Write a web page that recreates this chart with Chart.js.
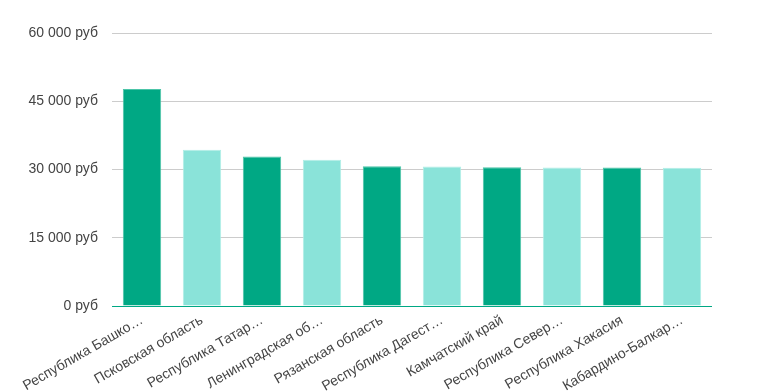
<!DOCTYPE html>
<html>
<head>
<meta charset="utf-8">
<script src="https://cdn.jsdelivr.net/npm/chart.js@4/dist/chart.umd.min.js"></script>
<style>
html,body{margin:0;padding:0;background:#fff;}
#wrap{width:760px;height:392px;position:relative;}
</style>
</head>
<body>
<div id="wrap"><canvas id="c" width="760" height="392"></canvas></div>
<script>
const categories = [
  "Республика Башко…",
  "Псковская область",
  "Республика Татар…",
  "Ленинградская об…",
  "Рязанская область",
  "Республика Дагест…",
  "Камчатский край",
  "Республика Север…",
  "Республика Хакасия",
  "Кабардино-Балкар…"
];
const salaries = [47700, 34350, 32880, 32160, 30700, 30650, 30500, 30450, 30450, 30400];
const yTicks = [0, 15000, 30000, 45000, 60000];

const dark = '#00a884';
const light = '#8ae3d9';
const barColors = categories.map((_, i) => i % 2 === 0 ? dark : light);
const borderColors = categories.map((_, i) => i % 2 === 0 ? '#4cc5a8' : '#b0eee6');

function fmt(v){
  return String(v).replace(/\B(?=(\d{3})+(?!\d))/g, ' ') + ' руб';
}

new Chart(document.getElementById('c'), {
  type: 'bar',
  data: {
    labels: categories,
    datasets: [{
      data: salaries,
      backgroundColor: barColors,
      borderColor: borderColors,
      borderWidth: 1,
      categoryPercentage: 1,
      barPercentage: 0.64
    }]
  },
  options: {
    responsive: false,
    animation: false,
    layout: { padding: { top: 33, right: 48, left: 0, bottom: 0 } },
    plugins: { legend: { display: false }, tooltip: { enabled: false } },
    scales: {
      x: {
        grid: { display: false, drawTicks: false },
        border: { display: false },
        afterFit: (axis) => { axis.height = 86; },
        ticks: {
          autoSkip: false,
          minRotation: 30,
          maxRotation: 30,
          padding: 6,
          color: '#444',
          font: { family: 'Liberation Sans, Arial, sans-serif', size: 14 }
        }
      },
      y: {
        min: 0,
        max: 60000,
        afterBuildTicks: (axis) => { axis.ticks = yTicks.map(v => ({ value: v })); },
        afterFit: (axis) => { axis.width = 112; },
        border: { display: false },
        grid: {
          drawTicks: false,
          color: (ctx) => ctx.tick && ctx.tick.value === 0 ? dark : '#cccccc',
          lineWidth: 1
        },
        ticks: {
          padding: 14,
          color: '#444',
          font: { family: 'Liberation Sans, Arial, sans-serif', size: 14 },
          callback: (v) => fmt(v)
        }
      }
    }
  }
});
</script>
</body>
</html>
